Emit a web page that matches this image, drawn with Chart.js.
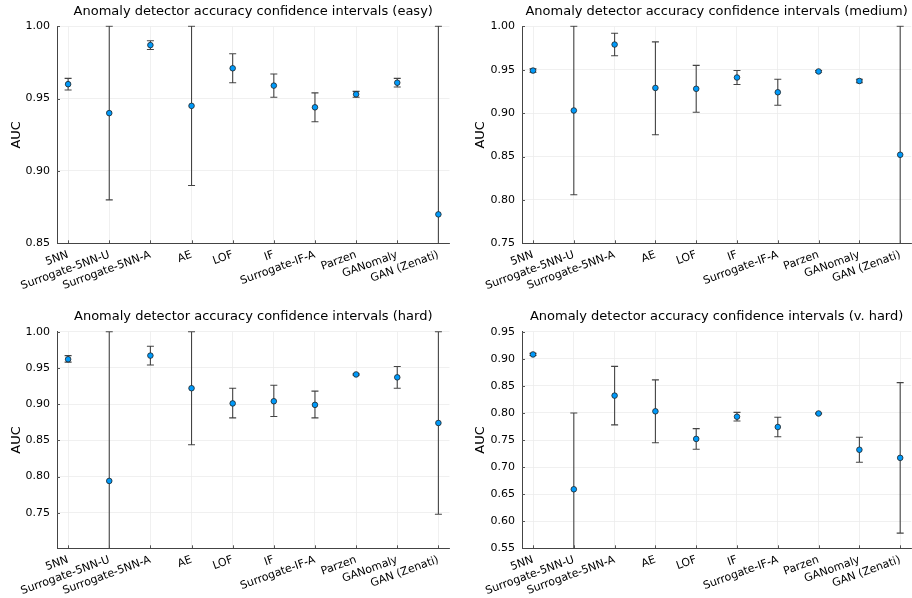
<!DOCTYPE html>
<html>
<head>
<meta charset="utf-8">
<script src="https://cdn.jsdelivr.net/npm/chart.js@4.4.1/dist/chart.umd.min.js"></script>
<style>
    html, body { margin: 0; padding: 0; background: #fff; width: 912px; height: 598px; overflow: hidden; }
    .panel { position: absolute; }
</style>
</head>
<body>
<div class="panel" style="left:0;top:0"><canvas id="easy" width="456" height="299"></canvas></div>
<div class="panel" style="left:456px;top:0"><canvas id="medium" width="460" height="299"></canvas></div>
<div class="panel" style="left:0;top:299px"><canvas id="hard" width="456" height="299"></canvas></div>
<div class="panel" style="left:456px;top:299px"><canvas id="vhard" width="460" height="299"></canvas></div>
<script>
//Data-----------------------------------------------------
const categories = ['5NN', 'Surrogate-5NN-U', 'Surrogate-5NN-A', 'AE', 'LOF', 'IF', 'Surrogate-IF-A', 'Parzen', 'GANomaly', 'GAN (Zenati)'];

const easyAuc = [0.960, 0.940, 0.987, 0.945, 0.971, 0.959, 0.944, 0.953, 0.961, 0.870];
const easyLow = [0.956, 0.880, 0.984, 0.890, 0.961, 0.951, 0.934, 0.951, 0.958, 0.740];
const easyHigh = [0.964, 1.000, 0.990, 1.000, 0.981, 0.967, 0.954, 0.955, 0.964, 1.000];

const mediumAuc = [0.949, 0.903, 0.979, 0.929, 0.928, 0.941, 0.924, 0.948, 0.937, 0.852];
const mediumLow = [0.947, 0.806, 0.966, 0.875, 0.901, 0.933, 0.909, 0.947, 0.935, 0.704];
const mediumHigh = [0.951, 1.000, 0.992, 0.982, 0.955, 0.949, 0.939, 0.949, 0.939, 1.000];

const hardAuc = [0.962, 0.794, 0.967, 0.922, 0.901, 0.904, 0.899, 0.941, 0.937, 0.874];
const hardLow = [0.958, 0.588, 0.954, 0.844, 0.881, 0.883, 0.881, 0.940, 0.922, 0.748];
const hardHigh = [0.967, 1.000, 0.980, 1.000, 0.922, 0.926, 0.918, 0.942, 0.952, 1.000];

const vhardAuc = [0.908, 0.659, 0.832, 0.803, 0.752, 0.793, 0.774, 0.799, 0.732, 0.717];
const vhardLow = [0.906, 0.518, 0.778, 0.745, 0.733, 0.785, 0.756, 0.798, 0.709, 0.578];
const vhardHigh = [0.910, 0.800, 0.886, 0.861, 0.771, 0.801, 0.792, 0.800, 0.755, 0.856];

const easyTicks = [0.85, 0.90, 0.95, 1.00];
const mediumTicks = [0.75, 0.80, 0.85, 0.90, 0.95, 1.00];
const hardTicks = [0.75, 0.80, 0.85, 0.90, 0.95, 1.00];
const vhardTicks = [0.55, 0.60, 0.65, 0.70, 0.75, 0.80, 0.85, 0.90, 0.95];

//Error bar + inner tick plugin------------------------------
const errorBars = {
    id: 'errorBars',
    beforeDatasetsDraw(chart) {
        const { ctx, chartArea, scales: { x, y } } = chart;
        const pts = chart.data.datasets[0].data;
        ctx.save();
        ctx.beginPath();
        ctx.rect(chartArea.left, chartArea.top - 1, chartArea.width, chartArea.height + 1);
        ctx.clip();
        ctx.strokeStyle = '#444';
        ctx.lineWidth = 1.1;
        pts.forEach(p => {
            const px = x.getPixelForValue(p.x);
            const top = y.getPixelForValue(p.high);
            const bot = y.getPixelForValue(p.low);
            ctx.beginPath();
            ctx.moveTo(px, top); ctx.lineTo(px, bot);
            ctx.moveTo(px - 3.5, top); ctx.lineTo(px + 3.5, top);
            ctx.moveTo(px - 3.5, bot); ctx.lineTo(px + 3.5, bot);
            ctx.stroke();
        });

        // short ticks pointing into the plot, like the original
        ctx.strokeStyle = '#555';
        ctx.lineWidth = 1;
        ctx.beginPath();
        x.ticks.forEach(t => {
            const px = Math.round(x.getPixelForValue(t.value)) + 0.5;
            ctx.moveTo(px, chartArea.bottom); ctx.lineTo(px, chartArea.bottom - 3);
        });
        y.ticks.forEach(t => {
            const py = Math.round(y.getPixelForValue(t.value)) + 0.5;
            ctx.moveTo(chartArea.left, py); ctx.lineTo(chartArea.left + 3, py);
        });
        ctx.stroke();
        ctx.restore();
    }
};

//Panels----------------------------------------------------
const FONT = "'DejaVu Sans', sans-serif";

function makePanel(id, title, auc, low, high, yTicks, yMin, yMax, g) {
    const points = auc.map((v, i) => ({ x: i + 1, y: v, low: low[i], high: high[i] }));
    const canvas = document.getElementById(id);
    const H = canvas.height;

    return new Chart(canvas, {
        type: 'scatter',
        data: {
            datasets: [{
                data: points,
                backgroundColor: '#009AFA',
                borderColor: '#222',
                borderWidth: 0.8,
                pointRadius: 2.8
            }]
        },
        options: {
            responsive: false,
            animation: false,
            events: [],
            layout: { padding: { left: 0, right: g.right, top: 0, bottom: 0 } },
            plugins: {
                legend: { display: false },
                tooltip: { enabled: false },
                title: {
                    display: true,
                    text: title,
                    fullSize: false,
                    color: '#000',
                    font: { family: FONT, size: 13, weight: 'normal', lineHeight: 1.2 },
                    padding: { top: g.titleTop, bottom: g.top - g.titleTop - 15.6 }
                }
            },
            scales: {
                x: {
                    type: 'linear',
                    min: 0.73,
                    max: 10.27,
                    afterBuildTicks: s => { s.ticks = categories.map((c, i) => ({ value: i + 1 })); },
                    afterFit: s => { s.height = H - g.bottom; },
                    ticks: {
                        callback: v => categories[v - 1],
                        minRotation: 20,
                        maxRotation: 20,
                        autoSkip: false,
                        padding: 5,
                        color: '#000',
                        font: { family: FONT, size: 11 }
                    },
                    grid: { color: '#ececec', lineWidth: 0.8, drawTicks: false },
                    border: { color: '#444', width: 1 }
                },
                y: {
                    min: yMin,
                    max: yMax,
                    afterBuildTicks: s => { s.ticks = yTicks.map(v => ({ value: v })); },
                    afterFit: s => { s.width = g.left; },
                    ticks: {
                        callback: v => v.toFixed(2),
                        padding: 7,
                        color: '#000',
                        font: { family: FONT, size: 11 }
                    },
                    title: {
                        display: true,
                        text: 'AUC',
                        color: '#000',
                        font: { family: FONT, size: 13 },
                        padding: { top: g.yTitle - 7.8, bottom: 0 }
                    },
                    grid: { color: '#ececec', lineWidth: 0.8, drawTicks: false },
                    border: { color: '#444', width: 1 }
                }
            }
        },
        plugins: [errorBars]
    });
}

const topLeft = { left: 57, right: 6.5, top: 26.3, bottom: 243.3, titleTop: 4.2, yTitle: 17 };
const topRight = { left: 66, right: 2.3, top: 26.3, bottom: 243.3, titleTop: 4.2, yTitle: 25 };
const botLeft = { left: 57, right: 6.5, top: 32.7, bottom: 249.3, titleTop: 9.9, yTitle: 17 };
const botRight = { left: 66, right: 2.3, top: 32.7, bottom: 249.3, titleTop: 9.9, yTitle: 25 };

makePanel('easy', 'Anomaly detector accuracy confidence intervals (easy)', easyAuc, easyLow, easyHigh, easyTicks, 0.85, 1.00, topLeft);
makePanel('medium', 'Anomaly detector accuracy confidence intervals (medium)', mediumAuc, mediumLow, mediumHigh, mediumTicks, 0.75, 1.00, topRight);
makePanel('hard', 'Anomaly detector accuracy confidence intervals (hard)', hardAuc, hardLow, hardHigh, hardTicks, 0.701, 1.00, botLeft);
makePanel('vhard', 'Anomaly detector accuracy confidence intervals (v. hard)', vhardAuc, vhardLow, vhardHigh, vhardTicks, 0.55, 0.95, botRight);
</script>
</body>
</html>
